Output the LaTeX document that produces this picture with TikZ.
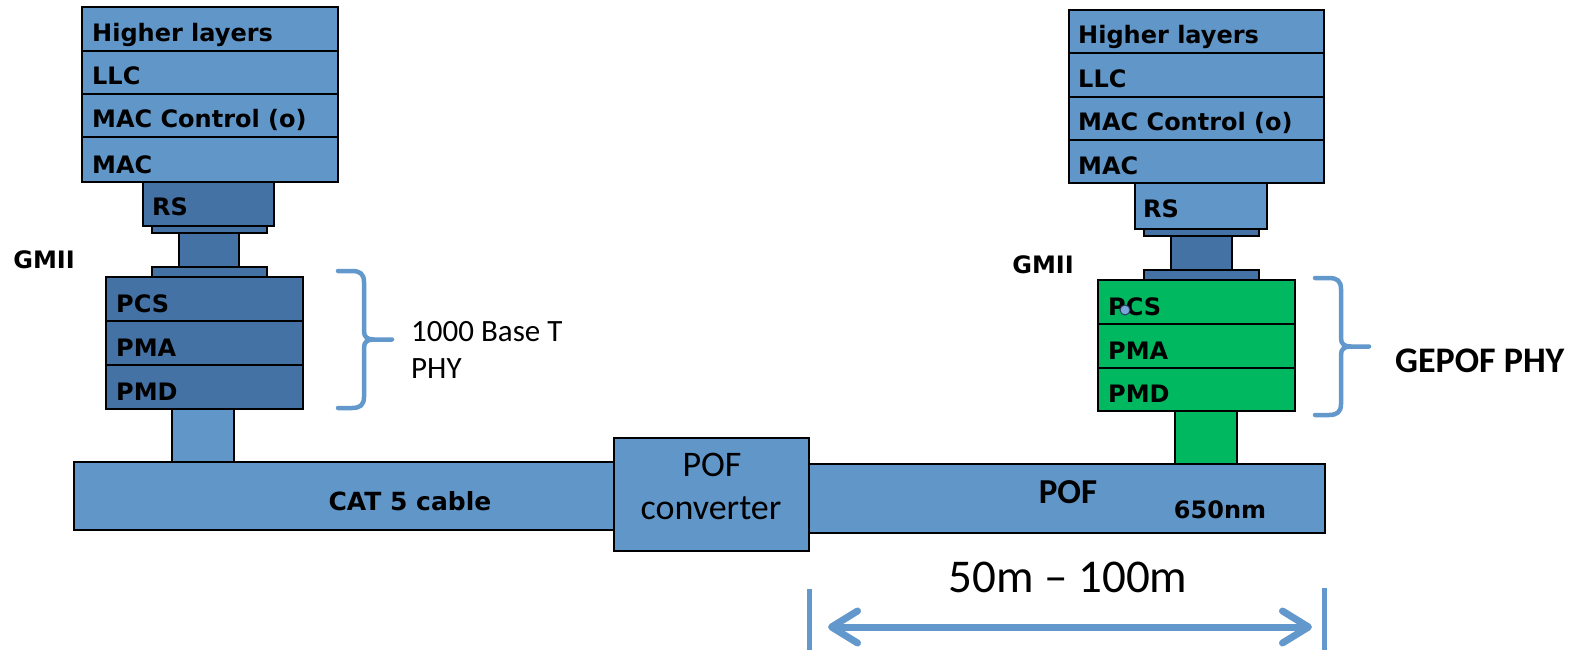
\documentclass[tikz,border=0pt]{standalone}
\usepackage{fontspec}
\setmainfont{Carlito}
\newfontfamily\dvs{DejaVu Sans}
\usetikzlibrary{arrows.meta}
\definecolor{lblue}{HTML}{6196C9}
\definecolor{dblue}{HTML}{4572A5}
\definecolor{gpof}{HTML}{00B860}
\definecolor{bracec}{HTML}{6298CC}
\definecolor{dotc}{HTML}{7AA6D8}
\definecolor{dotline}{HTML}{2A3A60}
\tikzset{
  box/.style={draw=black, line width=1.8pt, inner sep=0pt, outer sep=0pt, anchor=north west},
  lb/.style={box, fill=lblue},
  db/.style={box, fill=dblue},
  gb/.style={box, fill=gpof},
  lbl/.style={inner sep=0pt, anchor=base west, font=\dvs\bfseries\fontsize{24}{28}\selectfont},
  cal/.style={inner sep=0pt, anchor=base},
  brc/.style={draw=bracec, line width=4.5pt, line cap=round, line join=round},
  tick/.style={draw=bracec, line width=5pt},
  dim/.style={draw=bracec, line width=7pt, {Straight Barb[round, length=26pt, width=32pt]}-{Straight Barb[round, length=26pt, width=32pt]}},
}
\newcommand\bx[6]{\node[#2, minimum width={#5-#3}, minimum height={#6-#4}] (#1) at (#3,#4) {};}
\newcommand\lab[3][10]{\node[lbl] (#2t) at ([shift={(#1,-9)}]#2.south west) {#3};}
\newcommand\mybrace[2]{\draw[brc, shift={(#1,#2)}] (0,0) -- (14,0) .. controls (22,0) and (26,3) .. (26,11) -- (26,60) .. controls (26,66) and (29,68.5) .. (36,68.5) -- (54,68.5) -- (36,68.5) .. controls (29,68.5) and (26,71) .. (26,77) -- (26,126) .. controls (26,134) and (22,137) .. (14,137) -- (0,137);}
\begin{document}
\begin{tikzpicture}[x=1pt,y=-1pt]
\useasboundingbox (0,0) rectangle (1581,650);
% ---------- left stack ----------
\bx{hla}{lb}{82}{7}{338}{51}
\bx{llca}{lb}{82}{51}{338}{94}
\bx{macca}{lb}{82}{94}{338}{137}
\bx{maca}{lb}{82}{137}{338}{182}
\bx{rsa}{db}{143}{182}{274}{226}
\bx{mida}{db}{179}{233}{239}{267}
\bx{plaa}{db}{152}{226}{267}{233}
\bx{plab}{db}{152}{267}{267}{277}
\bx{pcsa}{db}{106}{277}{303}{321}
\bx{pmaa}{db}{106}{321}{303}{365}
\bx{pmda}{db}{106}{365}{303}{409}
\bx{cona}{lb}{172}{409}{234}{462}
\lab{hla}{Higher layers}
\lab{llca}{LLC}
\lab{macca}{MAC Control (o)}
\lab{maca}{MAC}
\node[lbl] (rsat) at ([shift={(9,-11)}]rsa.south west) {RS};
\lab{pcsa}{PCS}
\lab{pmaa}{PMA}
\lab{pmda}{PMD}
\node[lbl, anchor=base east] (gmiia) at (75,268) {GMII};
\mybrace{338}{271}
\node[cal, anchor=base west, font=\fontsize{31}{38}\selectfont] (bta) at (411,341) {1000 Base T};
\node[cal, anchor=base west, font=\fontsize{31}{38}\selectfont] (btb) at (411,378) {PHY};
% ---------- cables ----------
\bx{cat}{lb}{74}{462}{614}{530}
\bx{pof}{lb}{809}{464}{1325}{533}
\bx{conv}{lb}{614}{438}{809}{551}
\node[cal, font=\fontsize{36}{42}\selectfont] (convt1) at (712,476) {POF};
\node[cal, font=\fontsize{36}{42}\selectfont] (convt2) at (711,519) {converter};
\node[cal, font=\dvs\bfseries\fontsize{25}{29}\selectfont] (catt) at (410,510) {CAT 5 cable};
\node[cal, font=\bfseries\fontsize{35}{40}\selectfont] (poft) at (1068,503) {POF};
\node[cal, font=\dvs\bfseries\fontsize{24}{28}\selectfont] (nmt) at (1220,518) {650nm};
% ---------- right stack ----------
\bx{hlb}{lb}{1069}{10}{1324}{53}
\bx{llcb}{lb}{1069}{53}{1324}{97}
\bx{maccb}{lb}{1069}{97}{1324}{140}
\bx{macb}{lb}{1069}{140}{1324}{183}
\bx{rsb}{lb}{1135}{183}{1267}{229}
\bx{midb}{db}{1171}{236}{1232}{270}
\bx{plba}{db}{1144}{229}{1259}{236}
\bx{plbb}{db}{1144}{270}{1259}{280}
\bx{pcsb}{gb}{1098}{280}{1295}{324}
\bx{pmab}{gb}{1098}{324}{1295}{368}
\bx{pmdb}{gb}{1098}{368}{1295}{411}
\bx{conb}{gb}{1175}{411}{1237}{464}
\lab[9]{hlb}{Higher layers}
\lab[9]{llcb}{LLC}
\lab[9]{maccb}{MAC Control (o)}
\lab[9]{macb}{MAC}
\node[lbl] (rsbt) at ([shift={(8,-12)}]rsb.south west) {RS};
\lab{pcsb}{PCS}
\lab{pmab}{PMA}
\lab{pmdb}{PMD}
\node[circle, draw=dotline, fill=dotc, line width=1pt, minimum size=10pt, inner sep=0pt] (dot) at (1125,310) {};
\node[lbl, anchor=base east] (gmiib) at (1074,273) {GMII};
\mybrace{1315}{278}
\node[cal, anchor=base west, font=\bfseries\fontsize{36}{42}\selectfont] (gepof) at (1395,372) {GEPOF PHY};
% ---------- dimension ----------
\node[cal, font=\fontsize{47}{54}\selectfont] (dimt) at (1068,592) {50m – 100m};
\coordinate (tla) at (809,589);
\coordinate (tlb) at (809,650);
\coordinate (tra) at (1324,588);
\coordinate (trb) at (1324,650);
\coordinate (aa) at (828,627);
\coordinate (ab) at (1312,627);
\draw[tick] (tla) -- (tlb);
\draw[tick] (tra) -- (trb);
\draw[dim] (aa) -- (ab);
\end{tikzpicture}
\end{document}
